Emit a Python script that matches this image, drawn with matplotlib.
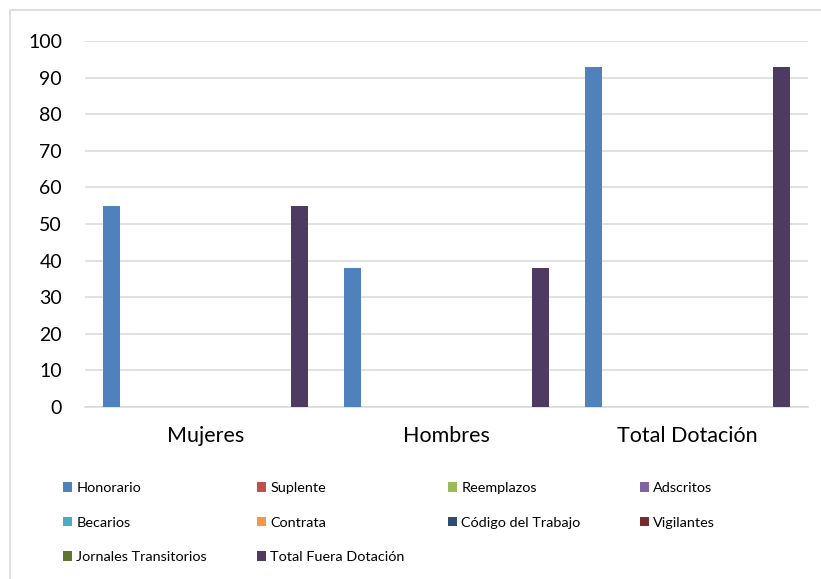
import numpy as np
import matplotlib.pyplot as plt
from matplotlib.patches import Rectangle

plt.rcParams["font.family"] = ["Lato", "DejaVu Sans"]

categories = ["Mujeres", "Hombres", "Total Dotación"]
series = ["Honorario", "Suplente", "Reemplazos", "Adscritos", "Becarios",
          "Contrata", "Código del Trabajo", "Vigilantes",
          "Jornales Transitorios", "Total Fuera Dotación"]
honorario = [55, 38, 93]
suplente = [0, 0, 0]
reemplazos = [0, 0, 0]
adscritos = [0, 0, 0]
becarios = [0, 0, 0]
contrata = [0, 0, 0]
codigo_trabajo = [0, 0, 0]
vigilantes = [0, 0, 0]
jornales = [0, 0, 0]
total_fuera = [55, 38, 93]
values = [honorario, suplente, reemplazos, adscritos, becarios,
          contrata, codigo_trabajo, vigilantes, jornales, total_fuera]

colors = ["#4F81BD", "#C0504D", "#9BBB59", "#8064A2", "#4BACC6",
          "#F79646", "#2C4D75", "#772C2A", "#5F7530", "#4D3B62"]

fig = plt.figure(figsize=(8.21, 5.79), dpi=100)
ax = fig.add_axes([85 / 821, 1 - 407 / 579, 723 / 821, 366 / 579])

# outer chart border (right and bottom edges fall outside the image)
fig.patches.append(Rectangle((10 / 821, -0.2), 1.2, 1.2 - 10 / 579, transform=fig.transFigure,
                             fill=False, edgecolor="#D9D9D9", linewidth=1.2))

x = np.arange(len(categories))
pitch = 0.0867
width = 0.073
bars = []
for i, (name, vals) in enumerate(zip(series, values)):
    b = ax.bar(x + (i - 4.5) * pitch, vals, width=width, color=colors[i], label=name, zorder=3)
    bars.append(b)

ax.set_xlim(-0.5, 2.5)
ax.set_ylim(0, 100)
ax.set_yticks(range(0, 101, 10))
ax.set_xticks(x)
ax.set_xticklabels(categories)
ax.tick_params(axis="y", length=0, pad=16.5, labelsize=14)
ax.tick_params(axis="x", length=0, pad=14, labelsize=15.5)
ax.grid(axis="y", color="#D9D9D9", linewidth=1.1, zorder=0)
for s in ["top", "right", "left"]:
    ax.spines[s].set_visible(False)
ax.spines["bottom"].set_color("#D9D9D9")
ax.spines["bottom"].set_linewidth(1.1)

# legend laid out in four equal columns like the original
col_x = [63, 257, 448, 640]
for c in range(4):
    idx = list(range(c, len(series), 4))
    leg = fig.legend([bars[i] for i in idx], [series[i] for i in idx],
                     loc="upper left", bbox_to_anchor=(col_x[c] / 821, 1 - 482 / 579),
                     frameon=False, fontsize=10.4, handlelength=0.62, handleheight=0.62,
                     handletextpad=0.3, labelspacing=1.56, borderpad=0, borderaxespad=0)

fig.savefig("out.png", dpi=100)
